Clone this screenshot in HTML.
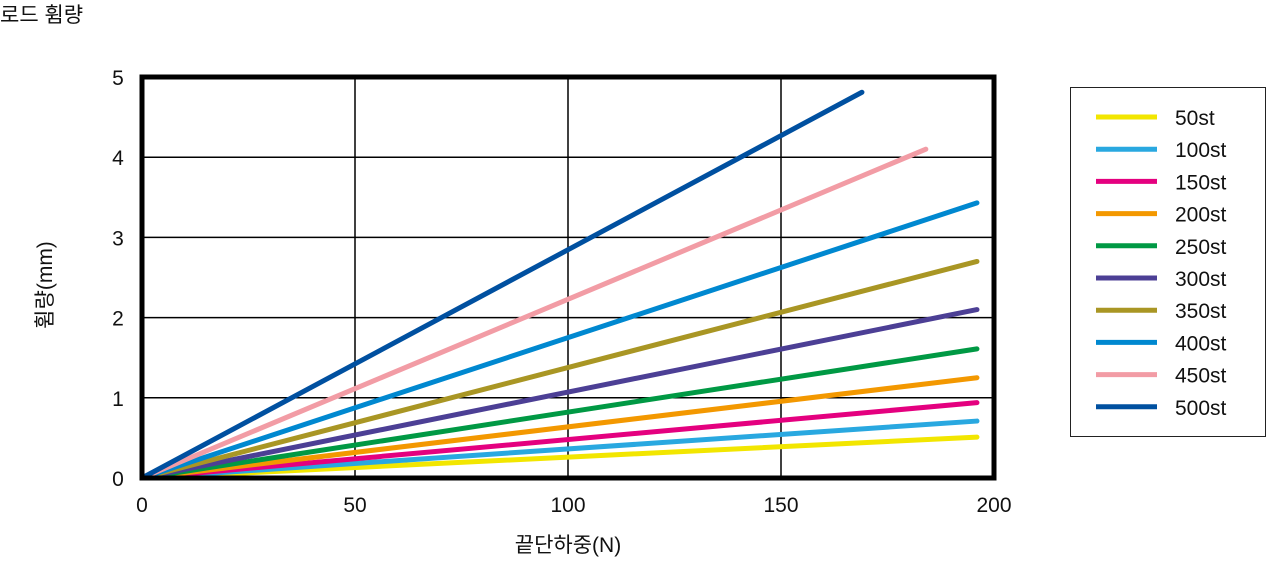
<!DOCTYPE html>
<html><head><meta charset="utf-8"><style>
body{margin:0;background:#fff;width:1280px;height:569px;overflow:hidden;font-family:"Liberation Sans","Noto Sans CJK KR",sans-serif}
svg text{font-family:"Liberation Sans","Noto Sans CJK KR",sans-serif;fill:#111}
</style></head><body>
<svg id="chart" width="1280" height="569">
<text x="0" y="22" font-size="21">로드 휨량</text>
<text x="0" y="0" font-size="21" text-anchor="middle" transform="translate(52,285) rotate(-90)">휨량(mm)</text>
<text x="568" y="552" font-size="21" text-anchor="middle">끝단하중(N)</text>
<g id="grid"></g><g id="series"></g>
<rect x="142" y="77" width="852" height="401" fill="none" stroke="#000" stroke-width="5"/>
<rect x="1070.5" y="87.5" width="195" height="349" fill="#fff" stroke="#222" stroke-width="1"/>
<g id="legend"></g>
</svg>
<script>
const categories=["50st","100st","150st","200st","250st","300st","350st","400st","450st","500st"];
const colors=["#f2e600","#29a8e0","#e4007f","#f39800","#009944","#4c3f95","#a99624","#0088d0","#f29ca5","#0050a0"];
const endLoads=[196,196,196,196,196,196,196,196,184,169];
const endDefl=[0.51,0.71,0.94,1.25,1.61,2.1,2.7,3.43,4.1,4.81];
const xTicks=[0,50,100,150,200];
const yTicks=[0,1,2,3,4,5];
const NS="http://www.w3.org/2000/svg";
const X=v=>142+v*(994-142)/200;
const Y=v=>478-v*(478-77)/5;
function mk(t,a,p){const e=document.createElementNS(NS,t);for(const k in a)e.setAttribute(k,a[k]);p.appendChild(e);return e;}
const grid=document.getElementById('grid');
xTicks.forEach(t=>{
 const l=mk('line',{x1:X(t),x2:X(t),y1:77,y2:478,stroke:'#000','stroke-width':1.5},grid);
 
 
 const tx=mk('text',{x:X(t),y:512,'font-size':21,'text-anchor':'middle'},grid);tx.textContent=t;
 
 
});
yTicks.forEach(t=>{
 const l=mk('line',{x1:142,x2:994,y1:Y(t),y2:Y(t),stroke:'#000','stroke-width':1.5},grid);
 
 
 const tx=mk('text',{x:118,y:Y(t)+8,'font-size':21,'text-anchor':'middle'},grid);tx.textContent=t;
 
 
});
const sg=document.getElementById('series'),lg=document.getElementById('legend');
categories.forEach((c,i)=>{
 const l=mk('line',{x1:X(0),y1:Y(0),x2:X(endLoads[i]),y2:Y(endDefl[i]),stroke:colors[i],'stroke-width':5,'stroke-linecap':'round'},sg);
 
 
 const y=117+i*32.2;
 const ll=mk('line',{x1:1096,x2:1157,y1:y,y2:y,stroke:colors[i],'stroke-width':5},lg);
 
 
 const t=mk('text',{x:1175,y:y+8,'font-size':21},lg);t.textContent=c;
 
 
});
</script>
</body></html>
